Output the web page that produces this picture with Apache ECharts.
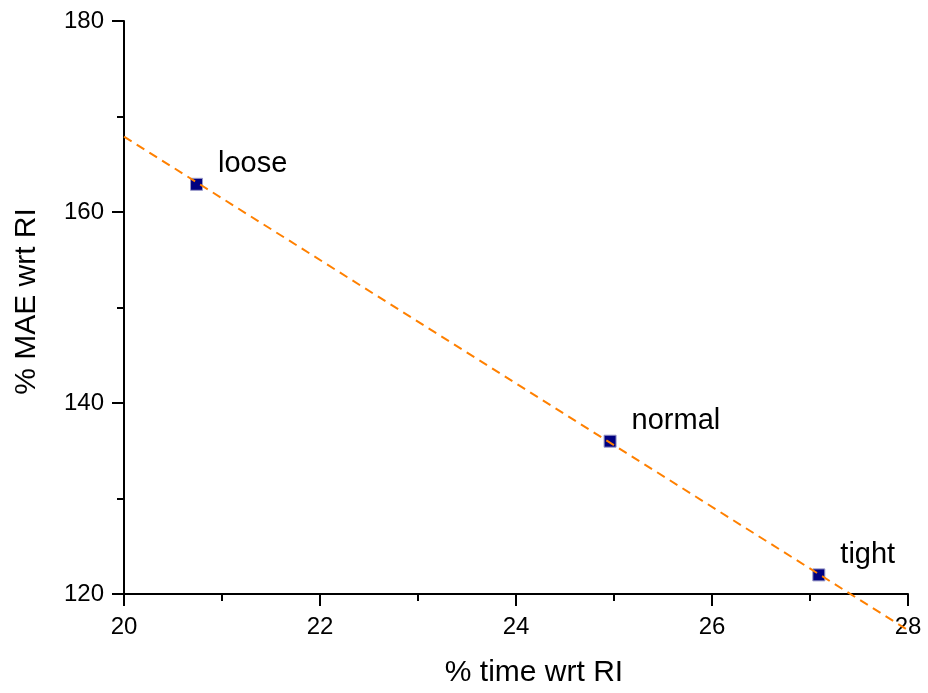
<!DOCTYPE html>
<html>
<head>
<meta charset="utf-8">
<script src="https://cdn.jsdelivr.net/npm/echarts@6/dist/echarts.min.js"></script>
<style>html,body{margin:0;padding:0;background:#fff}#c{width:928px;height:693px}</style>
</head>
<body>
<div id="c"></div>
<script>
var pointNames = ['loose', 'normal', 'tight'];
var timeWrtRI = [20.74, 24.96, 27.09];
var maeWrtRI = [162.9, 136.0, 122.0];
var fitX = [20, 28];
var fitY = [167.9, 116.2];
var xTicks = [20, 22, 24, 26, 28];
var yTicks = [120, 140, 160, 180];

var font = 'Liberation Sans, Arial, sans-serif';
var chart = echarts.init(document.getElementById('c'), null, {renderer: 'canvas'});
var axisCommon = {
  axisLine: {show: true, onZero: false, lineStyle: {color: '#000', width: 2}},
  axisTick: {show: true, inside: false, length: 12, lineStyle: {color: '#000', width: 2}},
  minorTick: {show: true, splitNumber: 2, length: 7, lineStyle: {color: '#000', width: 2}},
  splitLine: {show: false},
  nameLocation: 'middle'
};
chart.setOption({
  animation: false,
  backgroundColor: '#fff',
  textStyle: {fontFamily: font, color: '#000'},
  grid: {left: 124, top: 21, right: 20, bottom: 99, containLabel: false},
  xAxis: Object.assign({}, axisCommon, {
    type: 'value', min: xTicks[0], max: xTicks[xTicks.length - 1], interval: 2,
    name: '% time wrt RI', nameGap: 64,
    nameTextStyle: {fontFamily: font, fontSize: 30, color: '#000', padding: [0, 0, 0, 36]},
    axisLabel: {fontFamily: font, fontSize: 24, color: '#000', margin: 21}
  }),
  yAxis: Object.assign({}, axisCommon, {
    type: 'value', min: yTicks[0], max: yTicks[yTicks.length - 1], interval: 20,
    name: '% MAE wrt RI', nameGap: 82,
    nameTextStyle: {fontFamily: font, fontSize: 30, color: '#000', padding: [0, 0, 0, 12]},
    axisLabel: {fontFamily: font, fontSize: 24, color: '#000', margin: 20}
  }),
  series: [
    {
      type: 'scatter',
      symbol: 'rect',
      symbolSize: 12,
      itemStyle: {color: '#000080', borderColor: '#9a9ac8', borderWidth: 1, opacity: 1},
      data: timeWrtRI.map(function (x, i) { return {value: [x, maeWrtRI[i]], name: pointNames[i]}; }),
      label: {
        show: true, position: 'right', distance: 15, offset: [0, -20],
        formatter: '{b}', fontFamily: font, fontSize: 29, color: '#000', opacity: 1
      },
      z: 2
    },
    {
      type: 'line',
      data: fitX.map(function (x, i) { return [x, fitY[i]]; }),
      showSymbol: false,
      symbol: 'none',
      clip: false,
      lineStyle: {color: '#ff8000', width: 2, type: [9, 6]},
      z: 3
    }
  ]
});
</script>
</body>
</html>
